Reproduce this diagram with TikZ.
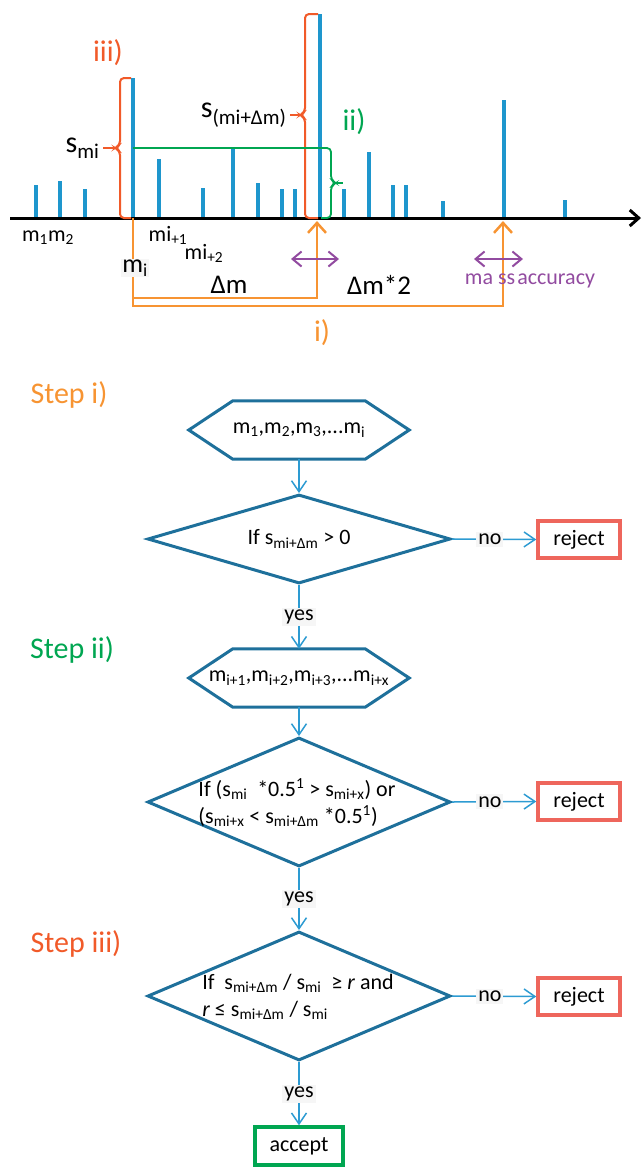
\documentclass[tikz,border=0pt]{standalone}
\usepackage{fontspec}
\setmainfont{Carlito}
\usetikzlibrary{arrows.meta,shapes.geometric,calc}

\definecolor{peakblue}{RGB}{30,150,205}
\definecolor{flowblue}{RGB}{30,112,155}
\definecolor{linkblue}{RGB}{45,155,210}
\definecolor{stepone}{RGB}{247,148,50}
\definecolor{steptwo}{RGB}{0,166,81}
\definecolor{stepthree}{RGB}{241,90,41}
\definecolor{accpurple}{RGB}{146,75,160}
\definecolor{rejred}{RGB}{238,102,92}
\definecolor{labelbg}{RGB}{246,246,246}

\newcommand{\pxsize}[1]{\fontsize{#1}{#1}\selectfont}

\begin{document}
\begin{tikzpicture}[x=1pt,y=-1pt,
    peak/.style={peakblue,line width=4pt},
    brace/.style={line width=2pt,rounded corners=4pt},
    guide/.style={stepone,line width=2.5pt},
    uparrow/.style={guide,-{Straight Barb[length=10pt,width=18pt]}},
    tol/.style={accpurple,line width=2pt,{Straight Barb[length=9pt,width=15pt]}-{Straight Barb[length=9pt,width=15pt]}},
    small/.style={font=\pxsize{22}},
    big/.style={font=\pxsize{27}},
    steplabel/.style={font=\pxsize{30}},
    hexa/.style={minimum width=220pt,minimum height=58pt,inner sep=0pt,font=\pxsize{22}},
    flowline/.style={draw=flowblue,line width=3pt},
    decision/.style={diamond,draw=flowblue,line width=3pt,minimum width=303pt,inner sep=0pt},
    cond/.style={font=\fontsize{22}{27}\selectfont,align=left},
    outcome/.style={draw,line width=3.5pt,minimum width=82pt,minimum height=37pt,font=\pxsize{22}},
    conn/.style={linkblue,line width=1.5pt,-{Straight Barb[length=11pt,width=15pt]}},
    tag/.style={fill=labelbg,text=black,inner sep=2pt,font=\pxsize{22}},
  ]
  \useasboundingbox (0,0) rectangle (642,1168);

  % spectrum peaks
  \foreach \x/\h in {36/185,60/181,85/189,133/78,159/159,203/188,233/148,258/183,282/189,295/189,
                     320/14,344/189,369/152,393/185,406/185,443/201,504/100,565/200}
    \draw[peak] (\x,218) -- (\x,\h);
  % mass axis
  \draw[black,line width=3pt,-{Straight Barb[length=9pt,width=16pt]}] (10,218) -- (641,218);

  % iii) intensity braces
  \draw[stepthree,brace] (131,78) -- (120,78) -- (120,145) -- (115,148) -- (120,151) -- (120,218) -- (131,218);
  \draw[stepthree,brace] (318,14) -- (305,14) -- (305,112) -- (300,115) -- (305,118) -- (305,218) -- (318,218);
  \coordinate (tipa) at (115,148);
  \coordinate (tipb) at (300,115);
  \node[font=\pxsize{30},anchor=east] (smi) at (103,148) {s\textsubscript{mi}};
  \node[font=\pxsize{30},anchor=east] (smidm) at (290,115) {s\textsubscript{(mi+Δm)}};
  \draw[stepthree,line width=2pt] (smi.east) -- (tipa);
  \draw[stepthree,line width=2pt] (smidm.east) -- (tipb);
  \node[steplabel,text=stepthree] (iiilab) at (108,53) {iii)};

  % ii) neighbour level
  \draw[steptwo,brace,line width=1.8pt] (133,148) -- (331,148) -- (331,180) -- (336,183) -- (331,186) -- (331,218) -- (321,218);
  \coordinate (tipc) at (336,183);
  \draw[steptwo,line width=1.8pt] (tipc) -- (343,183);
  \node[steplabel,text=steptwo] (iilab) at (354,122) {ii)};

  % i) mass differences
  \draw[uparrow] (133,218) -- (133,306) -- (503,306) -- (503,221);
  \draw[uparrow] (133,298) -- (317,298) -- (317,221);
  \draw[tol] (291,259) -- (339,259);
  \draw[tol] (474,259) -- (523,259);

  \node[small] (m12) at (48,238) {m\textsubscript{1}m\textsubscript{2}};
  \node[small] (mi1) at (168,235) {mi\textsubscript{+1}};
  \node[small] (mi2) at (204,253) {mi\textsubscript{+2}};
  \node[font=\pxsize{26},fill=labelbg,inner sep=1pt] (milab) at (135,268) {m\textsubscript{i}};
  \node[big] (dmlab) at (229,285) {Δm};
  \node[big] (dm2lab) at (379,285) {Δm*2};
  \node[small,text=accpurple] (acclab) at (530,281) {ma ss\hspace{2pt}accuracy};
  \node[steplabel,text=stepone] (ilab) at (322,333) {i)};

  % Step i)
  \node[steplabel,text=stepone] (s1) at (69,395) {Step i)};
  \node[hexa] (hex1) at (299,430) {m\textsubscript{1},m\textsubscript{2},m\textsubscript{3},...m\textsubscript{i}};
  \draw[flowline] (hex1.west) -- ($(hex1.north west)+(44,0)$) -- ($(hex1.north east)-(44,0)$) -- (hex1.east)
     -- ($(hex1.south east)-(44,0)$) -- ($(hex1.south west)+(44,0)$) -- cycle;
  \node[decision,minimum height=89pt] (d1) at (299,539) {};
  \node[cond] (c1) at (d1.center) {If s\textsubscript{mi+Δm} > 0};
  \node[outcome,draw=rejred] (r1) at (579,539.5) {reject};

  % Step ii)
  \node[steplabel,text=steptwo] (s2) at (72,650) {Step ii)};
  \node[hexa] (hex2) at (299,678) {m\textsubscript{i+1},m\textsubscript{i+2},m\textsubscript{i+3},...m\textsubscript{i+x}};
  \draw[flowline] (hex2.west) -- ($(hex2.north west)+(44,0)$) -- ($(hex2.north east)-(44,0)$) -- (hex2.east)
     -- ($(hex2.south east)-(44,0)$) -- ($(hex2.south west)+(44,0)$) -- cycle;
  \node[decision,minimum height=129pt] (d2) at (299,802) {};
  \node[cond] (c2) at (297,803) {If (s\textsubscript{mi}\ \ *0.5\textsuperscript{1} > s\textsubscript{mi+x}) or\\
    (s\textsubscript{mi+x} < s\textsubscript{mi+Δm} *0.5\textsuperscript{1})};
  \node[outcome,draw=rejred] (r2) at (579,801.5) {reject};

  % Step iii)
  \node[steplabel,text=stepthree] (s3) at (76,944) {Step iii)};
  \node[decision,minimum height=129pt] (d3) at (299,996) {};
  \node[cond] (c3) at (298,997) {If\ \ s\textsubscript{mi+Δm} / s\textsubscript{mi}\ \ ≥ \textit{r} and\\
    \textit{r} ≤ s\textsubscript{mi+Δm} / s\textsubscript{mi}};
  \node[outcome,draw=rejred] (r3) at (579,996.5) {reject};
  \node[outcome,draw=steptwo,minimum width=88pt,minimum height=38pt] (acc) at (299,1146) {accept};

  % connectors
  \draw[conn] (hex1.south) -- (d1.north);
  \draw[conn] (d1.east) -- node[tag,pos=0.45] {no} (r1.west);
  \draw[conn] (d1.south) -- node[tag] {yes} (hex2.north);
  \draw[conn] (hex2.south) -- (d2.north);
  \draw[conn] (d2.east) -- node[tag,pos=0.45] {no} (r2.west);
  \draw[conn] (d2.south) -- node[tag] {yes} (d3.north);
  \draw[conn] (d3.east) -- node[tag,pos=0.45] {no} (r3.west);
  \draw[conn] (d3.south) -- node[tag] {yes} (acc.north);
\end{tikzpicture}
\end{document}
